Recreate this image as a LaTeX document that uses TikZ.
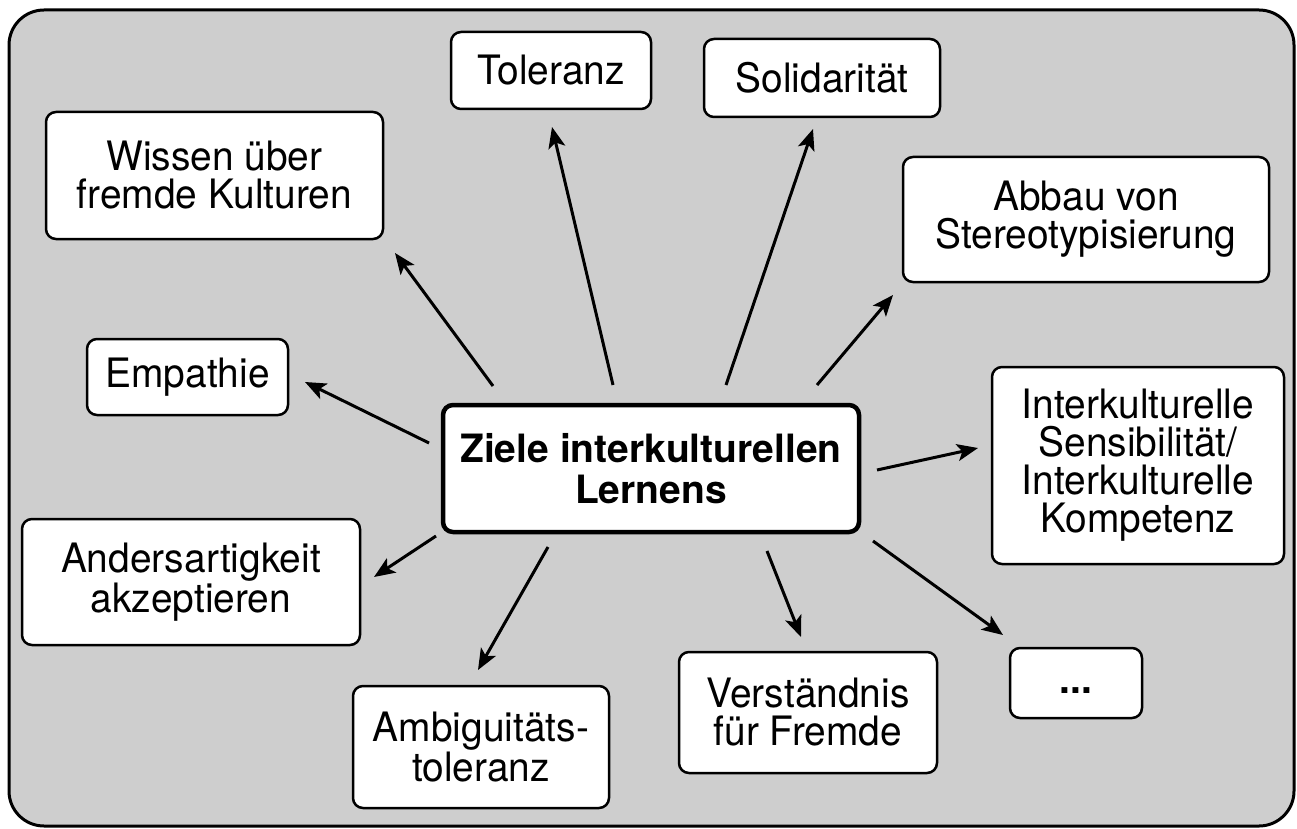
\documentclass[tikz,border=0pt]{standalone}
\usepackage{fontspec}
\setmainfont{TeX Gyre Heros}
\newfontfamily\goalfont[FakeStretch=0.96]{TeX Gyre Heros}
\usetikzlibrary{arrows.meta}
\definecolor{bggray}{RGB}{206,206,206}
\begin{document}
\begin{tikzpicture}[x=1pt,y=-1pt,
  goalbox/.style={draw, fill=white, line width=2.5pt, rounded corners=10pt,
    inner sep=0pt, align=center, font=\goalfont\fontsize{40.5}{38}\selectfont},
  mainbox/.style={draw, fill=white, line width=4.5pt, rounded corners=10pt,
    inner sep=0pt, align=center, font=\bfseries\fontsize{39}{41}\selectfont},
  goalarrow/.style={line width=3pt, -{Stealth[length=21pt,width=17pt,inset=5pt]}}
]
\useasboundingbox (0,0) rectangle (1297,829);
\draw[line width=3pt, fill=bggray, rounded corners=35pt] (9,10) rectangle (1294,826);

\node[mainbox, minimum width=416pt, minimum height=127pt] (center) at (651,468.5) {Ziele interkulturellen\\Lernens};

\node[goalbox, minimum width=337pt, minimum height=127pt] (wissen) at (214.5,175.5) {Wissen über\\fremde Kulturen};
\node[goalbox, minimum width=200pt, minimum height=77pt] (toleranz) at (551,70.5) {Toleranz};
\node[goalbox, minimum width=236pt, minimum height=78pt] (solid) at (822,78) {Solidarität};
\node[goalbox, minimum width=366pt, minimum height=125pt] (abbau) at (1086,219.5) {Abbau von\\Stereotypisierung};
\node[goalbox, minimum width=201pt, minimum height=76pt] (empathie) at (187.5,377) {Empathie};
\node[goalbox, minimum width=292pt, minimum height=197pt] (interk) at (1138,465.5) {Interkulturelle\\Sensibilität/\\Interkulturelle\\Kompetenz};
\node[goalbox, minimum width=338pt, minimum height=126pt] (anders) at (191,582) {Andersartigkeit\\akzeptieren};
\node[goalbox, minimum width=256pt, minimum height=122pt] (ambig) at (481,747) {Ambiguitäts-\\toleranz};
\node[goalbox, minimum width=258pt, minimum height=121pt] (verst) at (808,712.5) {Verständnis\\für Fremde};
\node[goalbox, minimum width=132pt, minimum height=70pt] (dots) at (1076,683) {\vphantom{Ag}\textbf{...}};

\coordinate (s1) at (493,386);  \coordinate (t1) at (395,253);
\coordinate (s2) at (613,385);  \coordinate (t2) at (552,127);
\coordinate (s3) at (726,385);  \coordinate (t3) at (813,129);
\coordinate (s4) at (817,385);  \coordinate (t4) at (893,295);
\coordinate (s5) at (429,443);  \coordinate (t5) at (305,382);
\coordinate (s6) at (877,470);  \coordinate (t6) at (978,448);
\coordinate (s7) at (436,536);  \coordinate (t7) at (374,577);
\coordinate (s8) at (548,547);  \coordinate (t8) at (478,670);
\coordinate (s9) at (767,551);  \coordinate (t9) at (801,637);
\coordinate (s10) at (873,541); \coordinate (t10) at (1003,635);

\foreach \i in {1,...,10} {\draw[goalarrow] (s\i) -- (t\i);}
\end{tikzpicture}
\end{document}
